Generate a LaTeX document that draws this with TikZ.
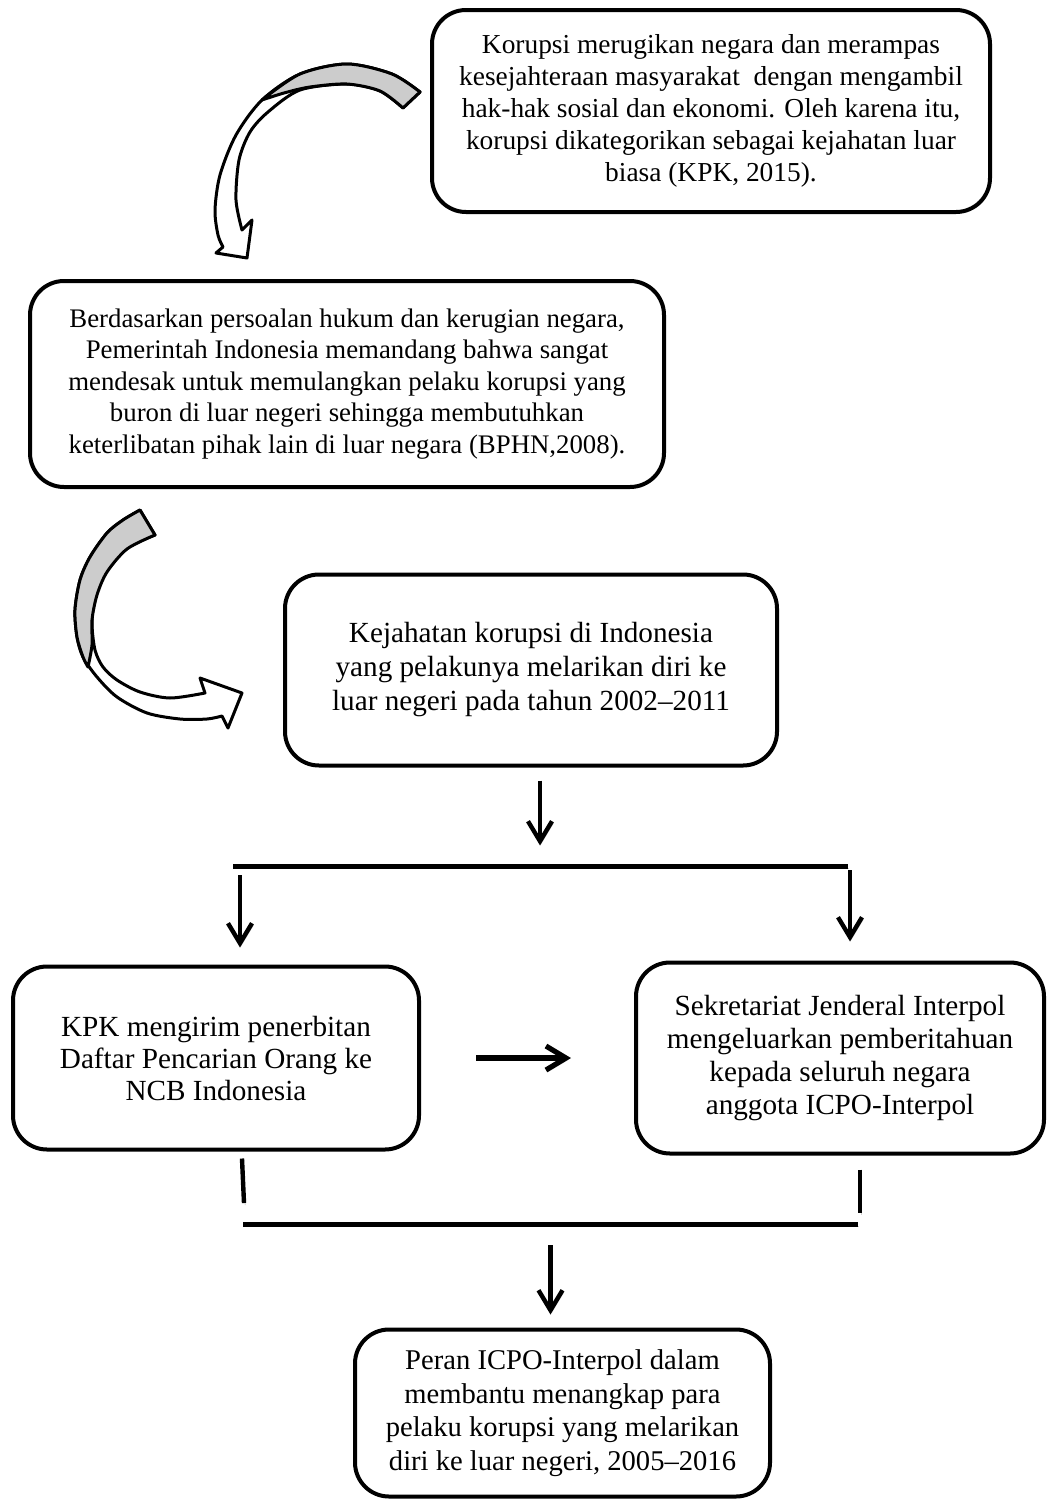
\documentclass[tikz,border=0pt]{standalone}
\usepackage{fontspec}
\setmainfont{Liberation Serif}
\usetikzlibrary{positioning,arrows.meta,calc}
\definecolor{rbgray}{HTML}{CCCCCC}
\tikzset{
  card/.style      ={draw, line width=2pt, rounded corners=17pt, align=center, inner sep=0pt},
  softshade/.style ={preaction={draw=black!18, transform canvas={shift={(0.6pt,-1.1pt)}}}},
  flow/.style      ={-{Straight Barb[length=10pt,width=12pt]}, line width=2.2pt, softshade},
  rail/.style      ={line width=2.5pt, softshade},
  stub/.style      ={line width=2.2pt, softshade},
  ribbon/.style    ={draw, line width=1.5pt, line join=round, fill=white},
  ribbonback/.style={ribbon, fill=rbgray},
}

\begin{document}
\begin{tikzpicture}[x=0.5pt,y=-0.5pt]
      \fill[white] (0,0) rectangle (1046,1499);
      \useasboundingbox (0,0) rectangle (1046,1499);
      \node[card, font=\fontsize{13.7}{16}\selectfont, minimum width=279pt, minimum height=101pt]
        (kpk) at (711,111) {Korupsi merugikan negara dan merampas\\kesejahteraan masyarakat\ \ dengan mengambil\\hak-hak sosial dan ekonomi. Oleh karena itu,\\korupsi dikategorikan sebagai kejahatan luar\\biasa (KPK, 2015).};
      \node[card, font=\fontsize{13.4}{15.75}\selectfont, minimum width=317pt, minimum height=103pt]
        (bphn) at (347,384) {Berdasarkan persoalan hukum dan kerugian negara,\\Pemerintah Indonesia memandang bahwa sangat\\mendesak untuk memulangkan pelaku korupsi yang\\buron di luar negeri sehingga membutuhkan\\keterlibatan pihak lain di luar negara (BPHN,2008).};
      \node[card, font=\fontsize{14.6}{17}\selectfont, minimum width=246pt, minimum height=95.5pt]
        (kasus) at (531,670) {Kejahatan korupsi di Indonesia\\yang pelakunya melarikan diri ke\\luar negeri pada tahun 2002–2011};
      \node[card, font=\fontsize{14.6}{16}\selectfont, minimum width=203pt, minimum height=91.5pt]
        (dpo) at (216,1058) {KPK mengirim penerbitan\\Daftar Pencarian Orang ke\\NCB Indonesia};
      \node[card, font=\fontsize{14.6}{16.5}\selectfont, minimum width=204pt, minimum height=95.5pt]
        (sekjen) at (840,1058) {Sekretariat Jenderal Interpol\\mengeluarkan pemberitahuan\\kepada seluruh negara\\anggota ICPO-Interpol};
      \node[card, font=\fontsize{14.3}{16.75}\selectfont, minimum width=207.5pt, minimum height=83.5pt]
        (peran) at (562.5,1413) {Peran ICPO-Interpol dalam\\membantu menangkap para\\pelaku korupsi yang melarikan\\diri ke luar negeri, 2005–2016};

      % curved arrow kpk -> bphn
      \path[ribbon] plot[smooth] coordinates {(420,92) (392,74) (347,64) (300,74) (262,100) (236,135) (220,175) (215,210) (218,235) (223,247)}
        -- (216,253) -- (247,258) -- (252,220) -- (242,230)
        -- plot[smooth] coordinates {(242,230) (236,200) (239,160) (250,132) (268,112) (300,90) (347,84) (380,91) (403,108)} -- cycle;
      \path[ribbonback] plot[smooth] coordinates {(420,92) (392,74) (347,64) (300,74) (262,100)}
        -- plot[smooth] coordinates {(262,100) (284,93) (310,87) (347,84) (380,91) (403,108)} -- cycle;

      % curved arrow bphn -> kasus
      \path[ribbon] plot[smooth] coordinates {(140,510) (123,520) (107,533) (90,557) (80,580) (75,610) (77,637) (83,657) (97,677) (117,697) (147,713) (180,719) (207,719) (222,716)}
        -- (228,728) -- (242,693) -- (200,678) -- (205,693)
        -- plot[smooth] coordinates {(205,693) (170,698) (140,692) (117,680) (103,667) (95,650) (92,623) (95,597) (107,570) (127,548) (155,535)} -- cycle;
      \path[ribbonback] plot[smooth] coordinates {(140,510) (123,520) (107,533) (90,557) (80,580) (75,610) (77,637) (83,657) (88,667)}
        -- plot[smooth] coordinates {(88,667) (92,645) (92,620) (97,595) (107,572) (127,549) (155,535)} -- cycle;

      \coordinate (barL) at (233,866);
      \coordinate (barR) at (848,866);
      \coordinate (joinL) at (243,1224);
      \coordinate (joinR) at (858,1224);
      \draw[flow] ($(kasus.south)+(9,13)$) -- ($(kasus.south)+(9,78)$);
      \draw[rail] (barL) -- (barR);
      \draw[flow] ($(barL)+(7,9)$) -- ($(dpo.north)+(24,-17)$);
      \draw[flow] ($(barR)+(2,4)$) -- ($(sekjen.north)+(10,-19)$);
      \draw[flow, line width=2.6pt] ($(dpo.east)+(55,0)$) -- ($(sekjen.west)+(-63,0)$);
      \draw[stub] ($(dpo.south)+(26,7)$) -- ($(joinL)+(1,-21)$);
      \draw[stub] ($(sekjen.south)+(20,14)$) -- ($(joinR)+(2,-11)$);
      \draw[rail] (joinL) -- (joinR);
      \draw[flow] ($(joinL)!0.5!(joinR)+(0,21)$) -- ($(peran.north)+(-12,-13)$);
    \end{tikzpicture}
\end{document}
